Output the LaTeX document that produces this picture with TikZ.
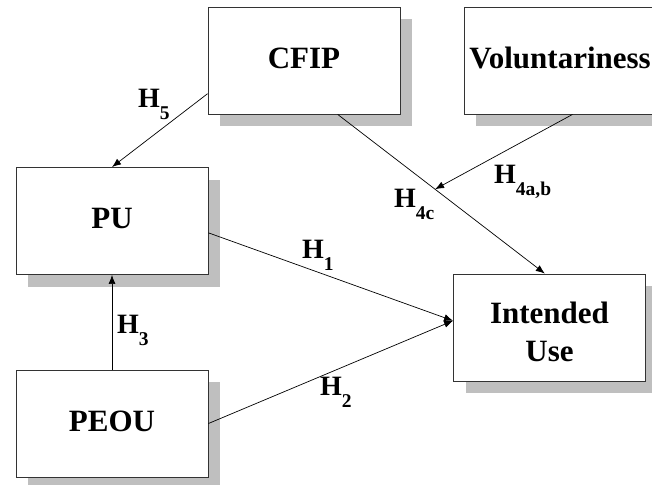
\documentclass[tikz,border=0pt]{standalone}
\usepackage{fontspec}
\setmainfont{Liberation Serif}
\usepackage{tikz}
\usetikzlibrary{arrows.meta,shadows}
\newcommand{\hsub}[1]{\raisebox{-12pt}{\fontsize{19.5}{19.5}\selectfont #1}}

\begin{document}
\begin{tikzpicture}[x=1pt,y=1pt]
			\useasboundingbox (0,0) rectangle (652,-484);
			\tikzstyle{box}=[draw=black!80,line width=0.9pt,fill=white,minimum width=192pt,minimum height=107pt,inner sep=0pt,align=center,text depth=5pt,font=\fontsize{31}{38}\selectfont\bfseries,drop shadow={shadow xshift=12pt,shadow yshift=-12pt,fill=black!25,opacity=1}]
			\tikzstyle{hyp}=[inner sep=0pt,anchor=base west,font=\fontsize{28}{28}\selectfont\bfseries]
			\tikzstyle{link}=[-{Latex[length=9pt,width=7pt]},line width=0.7pt]
			\node[box] (cfip) at (304,-60.5) {CFIP};
			\node[box] (vol) at (560,-60.5) {Voluntariness};
			\node[box] (pu) at (112,-221) {PU};
			\node[box] (peou) at (112,-423.5) {PEOU};
			\node[box,text height=67pt,text depth=0pt] (iu) at (549.5,-327.5) {Intended\\Use};
			\draw[link] (cfip.199) -- (pu.north);
			\draw[link] (cfip.302) -- coordinate[pos=0.47] (mod) (iu.95);
			\draw[link] (vol.283) -- (mod);
			\draw[link] (pu.353) -- (iu.176);
			\draw[link] (peou.east) -- (iu.176);
			\draw[link] (peou.north) -- (pu.south);
			\node[hyp] (h5) at (138,-107) {H\hsub{5}};
			\node[hyp] (h4c) at (394,-207) {H\hsub{4c}};
			\node[hyp] (h4ab) at (494,-183) {H\hsub{4a,b}};
			\node[hyp] (h1) at (302,-258) {H\hsub{1}};
			\node[hyp] (h3) at (117,-333) {H\hsub{3}};
			\node[hyp] (h2) at (320,-395) {H\hsub{2}};
		\end{tikzpicture}
\end{document}
